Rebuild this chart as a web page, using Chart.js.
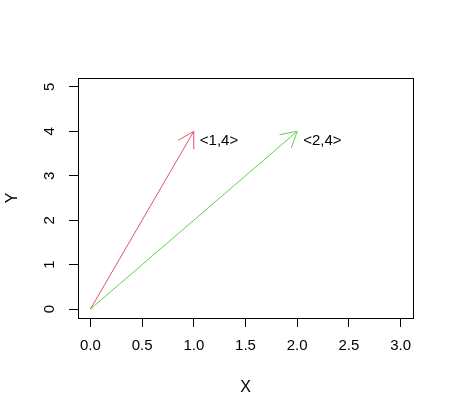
<!DOCTYPE html>
<html><head><meta charset="utf-8">
<script src="https://cdn.jsdelivr.net/npm/chart.js@4/dist/chart.umd.min.js"></script>
<style>html,body{margin:0;padding:0;background:#fff;}</style>
</head><body>
<canvas id="c" width="454" height="417"></canvas>
<script>
// ---- data ----
const vectorLabels = ['<1,4>', '<2,4>'];
const originX = [0, 0];
const originY = [0, 0];
const vectorX = [1, 2];
const vectorY = [4, 4];
const xTicks = [0, 0.5, 1, 1.5, 2, 2.5, 3];
const yTicks = [0, 1, 2, 3, 4, 5];
const xRange = [-0.12, 3.12];
const yRange = [-0.2, 5.2];
const xTitle = 'X';
const yTitle = 'Y';

// ---- style ----
const vectorColors = ['#DF536B', '#61D04F'];
const FONT = "'Liberation Sans', Arial, Helvetica, sans-serif";
Chart.defaults.font.family = FONT;
Chart.defaults.color = '#000';

const datasets = vectorX.map((vx, i) => ({
  label: vectorLabels[i],
  data: [{x: originX[i], y: originY[i]}, {x: vx, y: vectorY[i]}],
  showLine: true,
  borderColor: vectorColors[i],
  borderWidth: 1,
  pointRadius: 0,
  fill: false
}));

const decorPlugin = {
  id: 'decor',
  afterDatasetsDraw(chart) {
    const ctx = chart.ctx;
    const headLen = 18;
    chart.data.datasets.forEach((ds, i) => {
      const meta = chart.getDatasetMeta(i);
      const p0 = meta.data[0], p1 = meta.data[1];
      const a = Math.atan2(p1.y - p0.y, p1.x - p0.x);
      ctx.save();
      ctx.strokeStyle = vectorColors[i];
      ctx.lineWidth = 1;
      ctx.beginPath();
      [Math.PI / 6, -Math.PI / 6].forEach(d => {
        ctx.moveTo(p1.x, p1.y);
        ctx.lineTo(p1.x + headLen * Math.cos(a + Math.PI + d), p1.y + headLen * Math.sin(a + Math.PI + d));
      });
      ctx.stroke();
      ctx.fillStyle = '#000';
      ctx.font = '15px ' + FONT;
      ctx.textAlign = 'left';
      ctx.textBaseline = 'middle';
      ctx.fillText(vectorLabels[i], p1.x + 6, p1.y + 10);
      ctx.restore();
    });
  },
  afterDraw(chart) {
    const ctx = chart.ctx;
    const ca = chart.chartArea;
    ctx.save();
    ctx.strokeStyle = '#000';
    ctx.lineWidth = 1;
    ctx.strokeRect(Math.round(ca.left) + 0.5, Math.round(ca.top) + 0.5,
      Math.round(ca.right - ca.left), Math.round(ca.bottom - ca.top));
    // rotated y tick labels (R style)
    const ys = chart.scales.y;
    ctx.fillStyle = '#000';
    ctx.font = '15px ' + FONT;
    ctx.textAlign = 'center';
    ctx.textBaseline = 'middle';
    ys.ticks.forEach(t => {
      const py = ys.getPixelForValue(t.value);
      ctx.save();
      ctx.translate(50, py);
      ctx.rotate(-Math.PI / 2);
      ctx.fillText(String(t.value), 0, 0);
      ctx.restore();
    });
    ctx.restore();
  }
};

new Chart(document.getElementById('c'), {
  type: 'scatter',
  data: { datasets },
  options: {
    responsive: false,
    animation: false,
    devicePixelRatio: 1,
    layout: { padding: { top: 78, right: 41, left: 0, bottom: 0 } },
    plugins: { legend: { display: false }, tooltip: { enabled: false } },
    scales: {
      x: {
        type: 'linear', min: xRange[0], max: xRange[1],
        afterBuildTicks: s => { s.ticks = xTicks.map(v => ({ value: v })); },
        afterFit: s => { s.height = 99; },
        ticks: { callback: v => Number(v).toFixed(1), font: { size: 15 }, color: '#000', padding: 10, maxRotation: 0, autoSkip: false },
        grid: { drawOnChartArea: false, tickLength: 9, color: '#000' },
        border: { display: false },
        title: { display: true, text: xTitle, font: { size: 16, lineHeight: 1.2 }, color: '#000', padding: { top: 0, bottom: 20 } }
      },
      y: {
        type: 'linear', min: yRange[0], max: yRange[1],
        afterBuildTicks: s => { s.ticks = yTicks.map(v => ({ value: v })); },
        afterFit: s => { s.width = 78; },
        ticks: { display: false },
        grid: { drawOnChartArea: false, tickLength: 9, color: '#000' },
        border: { display: false },
        title: { display: true, text: yTitle, font: { size: 16, lineHeight: 1.2 }, color: '#000', padding: { top: 3, bottom: 0 } }
      }
    }
  },
  plugins: [decorPlugin]
});
</script>
</body></html>
